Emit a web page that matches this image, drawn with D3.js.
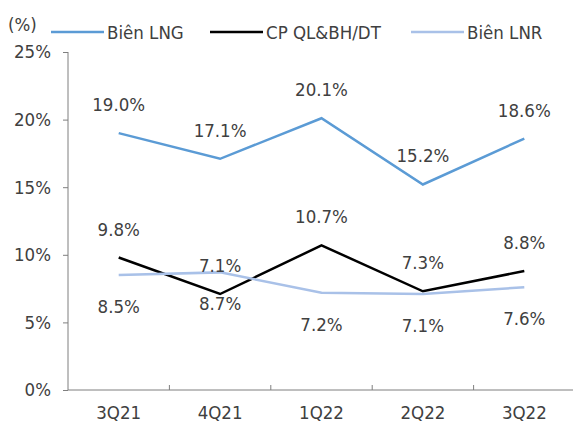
<!DOCTYPE html>
<html>
<head>
<meta charset="utf-8">
<script src="https://cdn.jsdelivr.net/npm/d3@7"></script>
<style>
	body { margin: 0; background: #fff; }
	svg text { font-family: "DejaVu Sans Condensed", "DejaVu Sans", sans-serif; fill: #404040; }
</style>
</head>
<body>
<div id="chart"></div>
<script>
// data
let quarters = ["3Q21", "4Q21", "1Q22", "2Q22", "3Q22"];
let bienLNG = [19.0, 17.1, 20.1, 15.2, 18.6];
let cpQLBH = [9.8, 7.1, 10.7, 7.3, 8.8];
let bienLNR = [8.5, 8.7, 7.2, 7.1, 7.6];
let yTicks = [0, 5, 10, 15, 20, 25];

let series = [
	{name: "Biên LNG", values: bienLNG, color: "#5b9bd5", labelPos: "above"},
	{name: "CP QL&BH/DT", values: cpQLBH, color: "#000000", labelPos: "above"},
	{name: "Biên LNR", values: bienLNR, color: "#a9c1e8", labelPos: "below"}
];

let fontSize = "18.5px";

let margin = {top: 52, right: -2, bottom: 35, left: 68};
let width = 573 - margin.left - margin.right;
let height = 425 - margin.top - margin.bottom;

let svg = d3.select("#chart").append("svg")
	.attr("width", 573)
	.attr("height", 425);

let g = svg.append("g")
	.attr("transform", "translate(" + margin.left + "," + margin.top + ")");

let x = d3.scaleBand()
	.domain(quarters)
	.range([0, width]);

let y = d3.scaleLinear()
	.domain([0, 25])
	.range([height, 0]);

// y axis
let yAxis = g.append("g")
	.call(d3.axisLeft(y).tickValues(yTicks).tickSize(5).tickFormat(d => d + "%"));
yAxis.select(".domain").attr("stroke", "#7f7f7f").attr("d", "M0," + height + "V0");
yAxis.selectAll(".tick line").attr("stroke", "#7f7f7f");
yAxis.selectAll(".tick text").attr("x", -17).attr("font-size", fontSize);

// x axis, ticks between categories pointing up
let xAxis = g.append("g")
	.attr("transform", "translate(0," + height + ")")
	.call(d3.axisBottom(x).tickSize(0).tickPadding(16));
xAxis.select(".domain").attr("stroke", "#7f7f7f").attr("d", "M0,0H" + width);
xAxis.selectAll(".tick text").attr("font-size", fontSize);
g.append("g").selectAll("line")
	.data(quarters.slice(1))
	.join("line")
	.attr("x1", d => x(d))
	.attr("x2", d => x(d))
	.attr("y1", height)
	.attr("y2", height - 5)
	.attr("stroke", "#7f7f7f");

let line = d3.line()
	.x((d, i) => x(quarters[i]) + x.bandwidth() / 2)
	.y(d => y(d));

series.forEach(s => {
	g.append("path")
		.datum(s.values)
		.attr("fill", "none")
		.attr("stroke", s.color)
		.attr("stroke-width", 2.5)
		.attr("d", line);
});

series.forEach(s => {
	g.append("g").selectAll("text")
		.data(s.values)
		.join("text")
		.attr("x", (d, i) => x(quarters[i]) + x.bandwidth() / 2)
		.attr("y", d => y(d) + (s.labelPos === "above" ? -22 : 38))
		.attr("text-anchor", "middle")
		.attr("font-size", fontSize)
		.text(d => d.toFixed(1) + "%");
});

// legend
svg.append("text")
	.attr("x", 8)
	.attr("y", 31)
	.attr("font-size", fontSize)
	.text("(%)");

let legendX = [51, 210, 411];
series.forEach((s, i) => {
	let lg = svg.append("g").attr("transform", "translate(" + legendX[i] + ",32)");
	lg.append("line")
		.attr("x1", 0).attr("x2", 53)
		.attr("y1", 0).attr("y2", 0)
		.attr("stroke", s.color)
		.attr("stroke-width", 2.5);
	lg.append("text")
		.attr("x", 56)
		.attr("y", 7)
		.attr("font-size", fontSize)
		.text(s.name);
});
</script>
</body>
</html>
